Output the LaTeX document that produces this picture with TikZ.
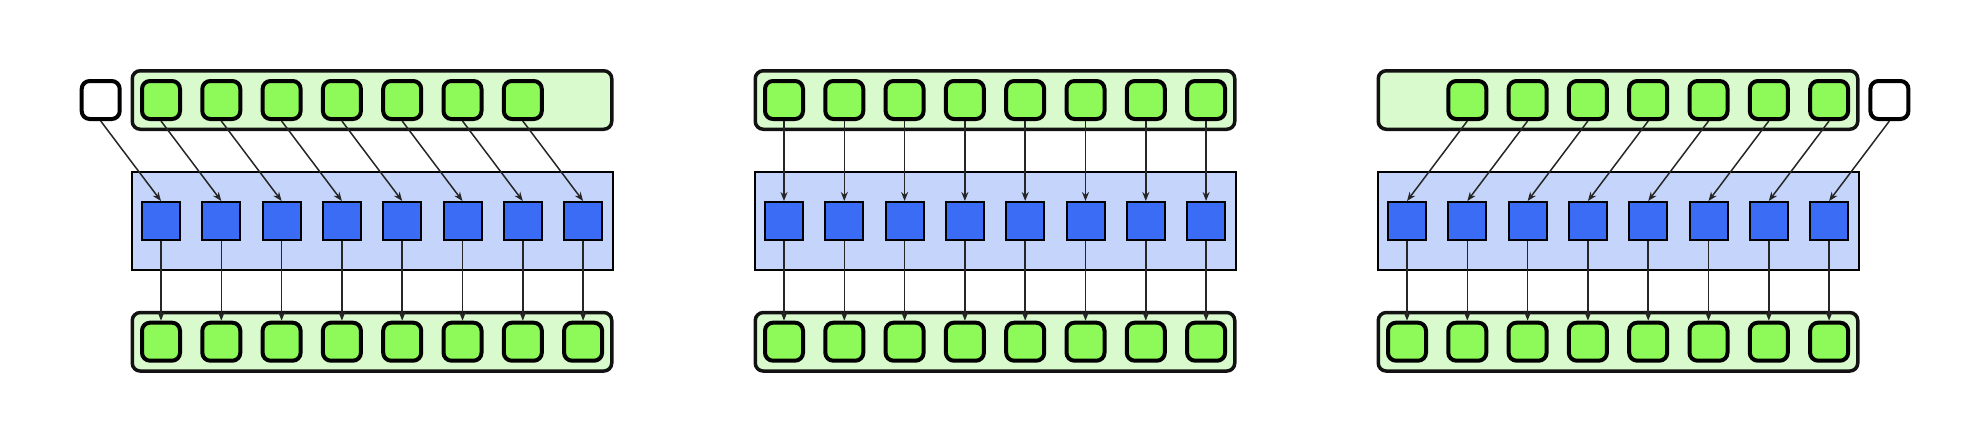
\documentclass[tikz,border=0pt]{standalone}
\usetikzlibrary{arrows.meta}
\definecolor{lgreen}{HTML}{D9FACD}
\definecolor{mgreen}{HTML}{8DFA5A}
\definecolor{lblue}{HTML}{C5D4FA}
\definecolor{mblue}{HTML}{3B6CF5}
\tikzset{
 seqbox/.style={draw=black!93, line width=3.5pt, fill=lgreen, rounded corners=8pt, minimum width=479.5pt, minimum height=58.5pt, inner sep=0pt},
 layerbox/.style={draw=black, line width=2pt, fill=lblue, minimum width=481pt, minimum height=98pt, inner sep=0pt},
 tok/.style={draw=black, line width=4pt, fill=mgreen, rounded corners=8pt, minimum size=38pt, inner sep=0pt},
 padtok/.style={tok, fill=white},
 unit/.style={draw=black, line width=2pt, fill=mblue, minimum size=38pt, inner sep=0pt},
 conn/.style={draw=black!85, line width=1.5pt, -{Stealth[length=9pt,width=7pt]}},
}
\begin{document}
\begin{tikzpicture}[x=1pt,y=-1pt]
\useasboundingbox (0,0) rectangle (1974,434);
\foreach \p/\dx in {0/0,1/623,2/1246} {
  \node[seqbox] (top\p) at (372+\dx,100) {};
  \node[layerbox] (lay\p) at (372+\dx,220.7) {};
  \node[seqbox] (bot\p) at (372+\dx,341.8) {};
  \foreach \k in {0,...,7} {
    \node[unit] (u\p-\k) at (161+\dx+60.3*\k,221) {};
    \node[tok] (o\p-\k) at (161+\dx+60.3*\k,341.7) {};
  }
}
% top tokens
\node[padtok] (w0) at (161-60.3,100) {};
\foreach \k in {0,...,6} \node[tok] (t0-\k) at (161+60.3*\k,100) {};
\foreach \k in {0,...,7} \node[tok] (t1-\k) at (784+60.3*\k,100) {};
\foreach \k in {1,...,7} \node[tok] (t2-\k) at (1407+60.3*\k,100) {};
\node[padtok] (w2) at (1407+60.3*8,100) {};
% connectors
\draw[conn] (w0.south) -- (u0-0.north);
\foreach \k [count=\j from 0] in {1,...,7} \draw[conn] (t0-\j.south) -- (u0-\k.north);
\foreach \k in {0,...,7} \draw[conn] (t1-\k.south) -- (u1-\k.north);
\foreach \k [count=\j from 0] in {1,...,7} \draw[conn] (t2-\k.south) -- (u2-\j.north);
\draw[conn] (w2.south) -- (u2-7.north);
\foreach \p in {0,1,2} {
  \foreach \k in {0,...,7} \draw[conn] (u\p-\k.south) -- (o\p-\k.north);
}
\end{tikzpicture}
\end{document}
